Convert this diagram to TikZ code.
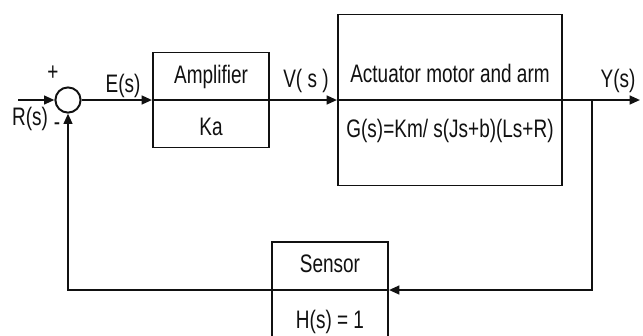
\documentclass[tikz,border=0pt]{standalone}
\usepackage{fontspec}
\setmainfont{Liberation Sans}[FakeStretch=0.75]
\usepackage{tikz}
\usetikzlibrary{positioning,arrows.meta,calc}
\definecolor{ink}{HTML}{111111}
\tikzset{
  >={Triangle[length=2.6mm,width=2.2mm]},
  every node/.style={font=\fontsize{18pt}{20pt}\selectfont, text=ink},
  % --- nodes
  blk/.style   = {draw=ink, line width=1.4pt, fill=none, inner sep=0pt},
  sumj/.style  = {circle, draw=ink, line width=1.4pt, minimum size=6.3mm, inner sep=0pt},
  lbl/.style   = {inner sep=0pt, anchor=base},
  % --- edges
  e/.style     = {->, draw=ink, line width=1.4pt},
  div/.style   = {draw=ink, line width=1pt},
}
\begin{document}
\begin{tikzpicture}[x=0.25mm, y=-0.25mm]
  \useasboundingbox (0,0) rectangle (643,335);
  \fill[white] (0,0) rectangle (643,335);

  % blocks
  \node[sumj] (sum) at (68,100) {};
  \node[blk, minimum width=29mm, minimum height=23.75mm] (amp) at (211,100) {};
  \node[blk, minimum width=56mm, minimum height=42.75mm] (act) at (450,100) {};
  \node[blk, minimum width=29mm, minimum height=24mm] (sen) at (330,290) {};
  \draw[div] (amp.west) -- (amp.east);
  \draw[div] (act.west) -- (act.east);
  \draw[div] (sen.west) -- (sen.east);

  % block texts
  \node[lbl] (ampt) at (211,83) {Amplifier};
  \node[lbl] (ampk) at (211,135) {Ka};
  \node[lbl] (actt) at (450,82) {Actuator motor and arm};
  \node[lbl] (actg) at (450,137) {G(s)=Km/ s(Js+b)(Ls+R)};
  \node[lbl] (sent) at (330,272) {Sensor};
  \node[lbl] (senh) at (330,328) {H(s) = 1};

  % signal labels
  \node[lbl, anchor=center] (plus) at (53,73) {+};
  \node[lbl, anchor=center] (minus) at (57,127) {-};
  \node[lbl] (rin) at (30,125) {R(s)};
  \node[lbl] (err) at (123,92) {E(s)};
  \node[lbl] (vout) at (306,87) {V( s )};
  \node[lbl] (yout) at (618,87) {Y(s)};

  % connectors
  \coordinate (in) at (18,100);
  \coordinate (out) at (640,100);
  \coordinate (br) at (592,100);
  \draw[e] (in) -- (sum.west);
  \draw[e] (sum.east) -- (amp.west);
  \draw[e] (amp.east) -- (act.west);
  \draw[e] (act.east) -- (out);
  \draw[e] (br) |- (sen.east);
  \draw[e] (sen.west) -| (sum.south);
\end{tikzpicture}
\end{document}
